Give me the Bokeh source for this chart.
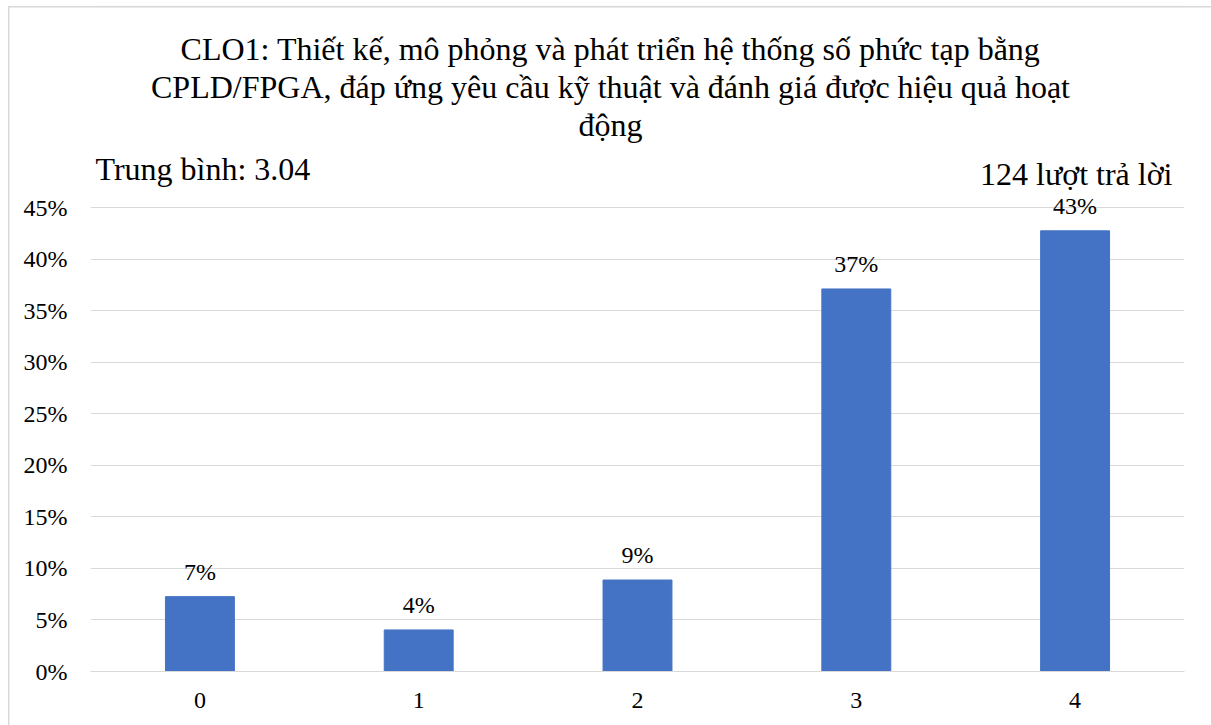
from bokeh.plotting import figure
from bokeh.models import (ColumnDataSource, LabelSet, Label, FixedTicker,
                          NumeralTickFormatter, BoxAnnotation, FactorRange, Range1d)
from bokeh.core.properties import value
from bokeh.embed import file_html
from bokeh.resources import INLINE

# ---- data ----
categories = ["0", "1", "2", "3", "4"]
shares = [0.0726, 0.0403, 0.0887, 0.3710, 0.4274]
value_labels = ["7%", "4%", "9%", "37%", "43%"]
y_ticks = [0.0, 0.05, 0.10, 0.15, 0.20, 0.25, 0.30, 0.35, 0.40, 0.45]
title_lines = [
    "CLO1: Thiết kế, mô phỏng và phát triển hệ thống số phức tạp bằng",
    "CPLD/FPGA, đáp ứng yêu cầu kỹ thuật và đánh giá được hiệu quả hoạt",
    "động",
]
mean_text = "Trung bình: 3.04"
count_text = "124 lượt trả lời"

FONT = "'Liberation Serif'"
BAR = "#4472C4"
GRID = "#D9D9D9"

# layout geometry (pixels)
W, H = 1211, 725
LEFT, RIGHT, BOTTOM = 90, 27, 54
AXIS_TOP_PX = 207                      # canvas y of the 45% gridline
frame_h = H - BOTTOM                   # frame reaches canvas top
px_per_unit = (frame_h - AXIS_TOP_PX) / y_ticks[-1]
y_end = frame_h / px_per_unit
px_per_cat = (W - LEFT - RIGHT) / len(categories)

def ydata(canvas_y):
    return (frame_h - canvas_y) / px_per_unit

def xdata(canvas_x):
    return (canvas_x - LEFT) / px_per_cat

src = ColumnDataSource(dict(cat=categories, share=shares, lab=value_labels))

border_css = ("linear-gradient(#D9D9D9,#D9D9D9) 8px 6px / 1.5px 100% no-repeat, "
              "linear-gradient(#D9D9D9,#D9D9D9) 8px 6px / 100% 1.5px no-repeat, "
              "#ffffff")

p = figure(width=W, height=H, x_range=FactorRange(*categories),
           y_range=Range1d(0, y_end), output_backend="svg", toolbar_location=None,
           min_border_left=LEFT, min_border_right=RIGHT, min_border_top=0,
           min_border_bottom=BOTTOM, styles={"background": border_css})
p.outline_line_color = None
p.background_fill_alpha = 0
p.border_fill_alpha = 0

p.vbar(x="cat", top="share", width=0.315, source=src, fill_color=BAR,
       line_color=BAR, line_width=1)

p.add_layout(LabelSet(x="cat", y="share", text="lab", source=src,
                      text_align="center", text_baseline="alphabetic",
                      y_offset=17, text_font=value(FONT), text_font_size=value("24px"),
                      text_color=value("#000000")))

# axes
p.yaxis.ticker = FixedTicker(ticks=y_ticks)
p.yaxis.formatter = NumeralTickFormatter(format="0%")
p.yaxis.axis_line_color = None
p.yaxis.major_tick_line_color = None
p.yaxis.minor_tick_line_color = None
p.yaxis.major_label_standoff = 17
p.yaxis.major_label_text_font = FONT
p.yaxis.major_label_text_font_size = "24px"
p.yaxis.major_label_text_color = "#000000"

p.xaxis.axis_line_color = GRID
p.xaxis.axis_line_width = 1
p.xaxis.major_tick_line_color = None
p.xaxis.minor_tick_line_color = None
p.xaxis.major_label_standoff = 15
p.xaxis.major_label_text_font = FONT
p.xaxis.major_label_text_font_size = "24px"
p.xaxis.major_label_text_color = "#000000"

p.xgrid.grid_line_color = None
p.ygrid.grid_line_color = GRID
p.ygrid.grid_line_width = 1

# chart border (top edge inside the frame)
p.add_layout(BoxAnnotation(left=8 - LEFT, right=W + 20 - LEFT,
                           top=frame_h - 6, bottom=-100,
                           left_units="screen", right_units="screen",
                           top_units="screen", bottom_units="screen",
                           fill_alpha=0, line_color=GRID, line_width=1.5))

# titles and notes
for i, t in enumerate(title_lines):
    p.add_layout(Label(x=xdata(610), y=ydata(48 + 38 * i), text=t,
                       text_align="center", text_baseline="alphabetic",
                       text_font=FONT, text_font_size="32px", text_color="#000000"))

p.add_layout(Label(x=xdata(95), y=ydata(168), text=mean_text,
                   text_align="left", text_baseline="alphabetic",
                   text_font=FONT, text_font_size="32px", text_color="#000000"))
p.add_layout(Label(x=xdata(1172), y=ydata(173), text=count_text,
                   text_align="right", text_baseline="alphabetic",
                   text_font=FONT, text_font_size="32px", text_color="#000000"))

open("out.html", "w").write(file_html(p, INLINE))
